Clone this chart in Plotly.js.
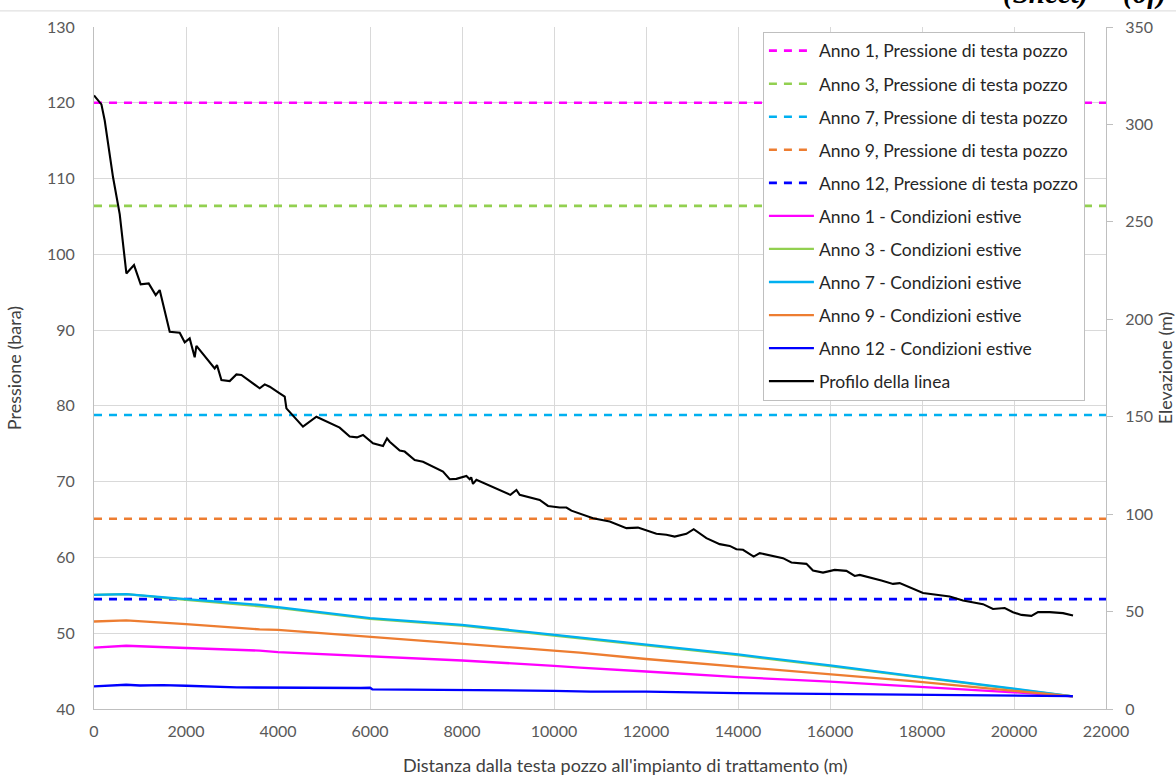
<!DOCTYPE html>
<html>
<head>
<meta charset="utf-8">
<script src="https://cdn.plot.ly/plotly-3.0.1.min.js"></script>
<style>html,body{margin:0;padding:0;background:#fff}#chart{width:1176px;height:776px}</style>
</head>
<body>
<div id="chart"></div>
<script>
// ---- Data ----
const xRange = [0, 22000];
const wellheadLabels = ["Anno 1, Pressione di testa pozzo","Anno 3, Pressione di testa pozzo","Anno 7, Pressione di testa pozzo","Anno 9, Pressione di testa pozzo","Anno 12, Pressione di testa pozzo"];
const wellheadPressure = [120.0, 106.4, 78.8, 65.1, 54.5];

const summerLabels = ["Anno 1 - Condizioni estive","Anno 3 - Condizioni estive","Anno 7 - Condizioni estive","Anno 9 - Condizioni estive","Anno 12 - Condizioni estive"];
const distAnno1 = [0, 700, 2000, 3600, 4000, 6000, 8000, 10000, 10560, 12000, 14000, 16000, 17730, 20000, 21280];
const presAnno1 = [48.1, 48.35, 48.05, 47.7, 47.5, 46.9, 46.4, 45.7, 45.45, 44.95, 44.2, 43.6, 43.0, 42.2, 41.66];
const distAnno3 = [0, 700, 2000, 4000, 6000, 8000, 10000, 12000, 14000, 16000, 18000, 20000, 21280];
const presAnno3 = [55.07, 55.16, 54.4, 53.35, 51.9, 51.0, 49.7, 48.4, 47.1, 45.65, 44.15, 42.6, 41.66];
const distAnno7 = [0, 700, 2000, 3600, 4000, 6000, 8000, 10000, 10600, 12000, 14000, 16000, 16430, 17730, 20000, 21280];
const presAnno7 = [55.07, 55.16, 54.5, 53.75, 53.45, 52.0, 51.1, 49.8, 49.4, 48.5, 47.2, 45.75, 45.4, 44.4, 42.7, 41.66];
const distAnno9 = [0, 700, 2000, 3600, 4000, 6000, 8000, 10000, 10560, 12000, 14000, 16000, 16430, 17730, 20000, 21280];
const presAnno9 = [51.55, 51.7, 51.2, 50.5, 50.45, 49.55, 48.6, 47.7, 47.45, 46.6, 45.6, 44.65, 44.4, 43.7, 42.4, 41.66];
const distAnno12 = [0, 700, 1000, 1500, 2000, 3100, 5800, 6000, 6050, 8000, 10000, 10800, 12000, 14000, 16000, 17700, 21280];
const presAnno12 = [42.98, 43.2, 43.1, 43.15, 43.07, 42.85, 42.77, 42.8, 42.6, 42.55, 42.4, 42.3, 42.3, 42.1, 42.0, 41.9, 41.7];

const profileLabel = "Profilo della linea";
const profileDist = [0,161,233,413,559,704,870,1015,1189,1341,1428,1646,1863,1972,2080,2189,2226,2624,2674,2770,2950,3096,3204,3602,3711,3820,4037,4146,4183,4543,4835,5341,5559,5717,5848,6065,6283,6370,6428,6646,6754,6972,7152,7370,7587,7733,7878,8096,8167,8200,8239,8313,8602,8891,9052,9183,9254,9689,9870,10124,10270,10378,10848,11211,11574,11826,12226,12443,12624,12878,13037,13313,13602,13820,13965,14109,14341,14472,14761,14978,15161,15487,15630,15848,16102,16357,16537,16646,17117,17370,17515,17804,18022,18313,18602,18891,19326,19543,19798,19978,20161,20378,20522,20776,21065,21283];
const profileElev = [314.9,310.3,302,273,254,223.5,227.8,217.9,218.4,212.4,215,193.6,193.1,188.2,190.2,180.5,186.4,174.8,176.5,168.8,168.3,171.7,171.4,164.6,166.6,165.4,162,160.3,154.3,144.9,150,144.4,139.8,139.4,140.6,136.4,135,138.9,137.2,132.6,132.1,127.8,126.9,124.4,121.8,117.9,118.1,119.6,117.9,118.9,115.5,117.6,114.5,111.6,109.9,112.4,109.9,107.3,104.2,103.4,103.4,101.8,97.9,96.2,92.8,93.1,89.9,89.4,88.5,89.9,92.3,87.7,84.6,83.7,82,81.7,78.2,80,78.7,77.4,75.2,74.5,71.1,70,71.4,70.9,68.3,68.8,65.9,64.2,64.6,61.5,59.5,58.6,57.7,55.7,53.8,51.3,51.8,49.7,48.3,47.8,49.7,49.7,49.2,48];

const colors = ["#FF00FF", "#92D050", "#00B0F0", "#ED7D31", "#0000FF"];
const xTitle = "Distanza dalla testa pozzo all'impianto di trattamento (m)";
const yTitle = "Pressione (bara)";
const y2Title = "Elevazione (m)";

// ---- Traces ----
const traces = [];
wellheadLabels.forEach((name, i) => {
  traces.push({x: xRange, y: [wellheadPressure[i], wellheadPressure[i]], name, type: 'scatter', mode: 'lines',
    legendgroup: 'g' + i, line: {color: colors[i], width: 2.6, dash: '8px,7px'}});
});
const dists = [distAnno1, distAnno3, distAnno7, distAnno9, distAnno12];
const pres = [presAnno1, presAnno3, presAnno7, presAnno9, presAnno12];
summerLabels.forEach((name, i) => {
  traces.push({x: dists[i], y: pres[i], name, type: 'scatter', mode: 'lines',
    legendgroup: 's' + i, line: {color: colors[i], width: 2.3}});
});
traces.push({x: profileDist, y: profileElev, name: profileLabel, type: 'scatter', mode: 'lines', yaxis: 'y2',
  legendgroup: 'p', line: {color: '#000000', width: 2.1}});

const font = 'Lato, "Open Sans", sans-serif';
const layout = {
  width: 1176, height: 776,
  margin: {l: 94, r: 70, t: 27, b: 67},
  paper_bgcolor: '#ffffff', plot_bgcolor: '#ffffff',
  font: {family: font, size: 16, color: '#595959'},
  showlegend: true,
  legend: {x: 0.661, y: 0.993, xanchor: 'left', yanchor: 'top', bgcolor: '#ffffff', bordercolor: '#bfbfbf', borderwidth: 1,
    font: {family: font, size: 17.5, color: '#262626'}, tracegroupgap: 7.3, itemwidth: 45, traceorder: 'grouped'},
  xaxis: {range: [0, 22000], dtick: 2000, tick0: 0, tickformat: 'd', showgrid: true, gridcolor: '#d9d9d9', gridwidth: 1,
    showline: true, linecolor: '#bfbfbf', linewidth: 1, zeroline: false, ticks: '', ticklabelstandoff: 8,
    tickfont: {size: 16, color: '#595959'}, mirror: false},
  yaxis: {range: [40, 130], dtick: 10, tick0: 40, showgrid: true, gridcolor: '#d9d9d9', gridwidth: 1,
    showline: true, linecolor: '#bfbfbf', linewidth: 1, zeroline: false, ticks: '', ticklabelstandoff: 15,
    tickfont: {size: 16, color: '#595959'},
    title: {text: yTitle, font: {size: 18, color: '#404040'}, standoff: 20}},
  yaxis2: {range: [0, 350], dtick: 50, tick0: 0, overlaying: 'y', side: 'right', showgrid: false,
    showline: true, linecolor: '#bfbfbf', linewidth: 1, zeroline: false, ticks: 'outside', ticklen: 6, tickcolor: '#bfbfbf',
    ticklabelstandoff: 9, tickfont: {size: 16, color: '#595959'},
    title: {text: y2Title, font: {size: 18, color: '#404040'}, standoff: 26}},
  annotations: [
    {text: xTitle, xref: 'paper', yref: 'paper', x: 0.525, y: -0.0635, xanchor: 'center', yanchor: 'top', showarrow: false,
      font: {family: font, size: 18, color: '#404040'}},
    {text: '<b><i>(Sheet)</i></b>', xref: 'paper', yref: 'paper', x: 0.896, y: 1.0215, xanchor: 'left', yanchor: 'bottom', showarrow: false,
      font: {family: '"Liberation Serif", serif', size: 29, color: '#000000'}},
    {text: '<b><i>(of)</i></b>', xref: 'paper', yref: 'paper', x: 1.015, y: 1.0215, xanchor: 'left', yanchor: 'bottom', showarrow: false,
      font: {family: '"Liberation Serif", serif', size: 29, color: '#000000'}}
  ],
  shapes: [
    {type: 'line', xref: 'paper', yref: 'paper', x0: -0.1, x1: 1.08, y0: 1.0236, y1: 1.0236, line: {color: '#d9d9d9', width: 1}}
  ]
};

Plotly.newPlot('chart', traces, layout, {displayModeBar: false, staticPlot: true});
</script>
</body>
</html>
